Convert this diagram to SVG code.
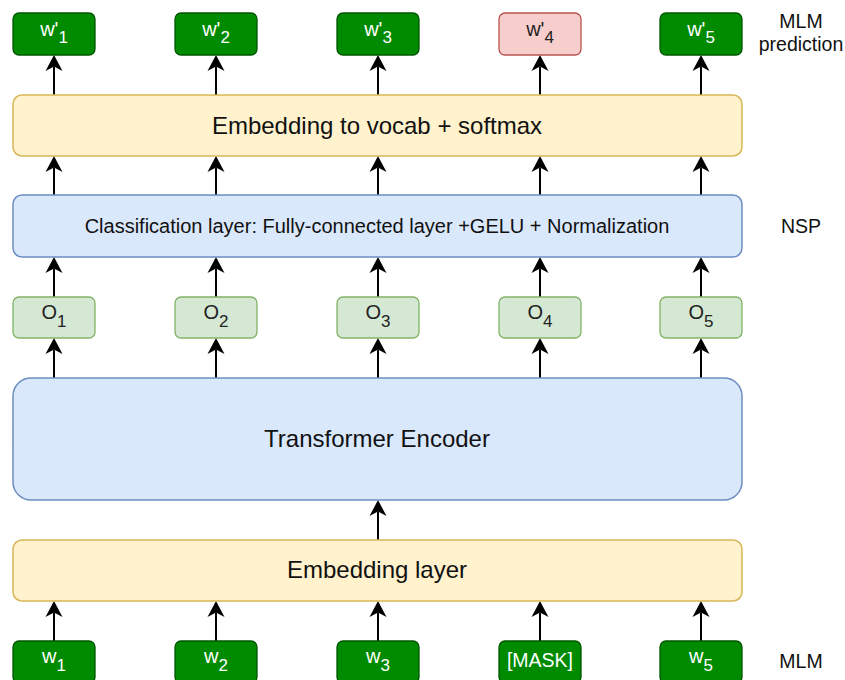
<svg xmlns="http://www.w3.org/2000/svg" width="845" height="680" viewBox="0 0 845 680">
<style>
text{font-family:"Liberation Sans",Arial,sans-serif;}
.dg{fill:#008a00;stroke:#005700;stroke-width:1.3;}
.pk{fill:#f8cecc;stroke:#b85450;stroke-width:1.3;}
.lg{fill:#d5e8d4;stroke:#82b366;stroke-width:1.3;}
.bl{fill:#dae8fc;stroke:#6c8ebf;stroke-width:1.5;}
.yl{fill:#fff2cc;stroke:#d6b656;stroke-width:1.5;}
.wt{fill:#ffffff;font-size:20px;text-anchor:middle;}
.dk{fill:#222222;font-size:20px;text-anchor:middle;}
.big{fill:#111111;font-size:24px;text-anchor:middle;}
.mid{fill:#111111;font-size:20px;text-anchor:middle;}
.side{fill:#111111;font-size:19.5px;text-anchor:middle;}
.sub{font-size:17px;}
.cn line{stroke:#000;stroke-width:2;marker-end:url(#ah);}
</style>
<defs>
<marker id="ah" markerUnits="userSpaceOnUse" viewBox="-1 -10 18 20" markerWidth="18" markerHeight="20" refX="4.5" refY="0" orient="auto">
<path d="M0,-8.5 L16,0 L0,8.5 L4.5,0 Z" fill="#000"/>
</marker>
</defs>

<g id="connectors" class="cn">
<line x1="54" y1="95" x2="54" y2="66.5"/>
<line x1="216" y1="95" x2="216" y2="66.5"/>
<line x1="378" y1="95" x2="378" y2="66.5"/>
<line x1="540" y1="95" x2="540" y2="66.5"/>
<line x1="701" y1="95" x2="701" y2="66.5"/>

<line x1="54" y1="195" x2="54" y2="167.5"/>
<line x1="216" y1="195" x2="216" y2="167.5"/>
<line x1="378" y1="195" x2="378" y2="167.5"/>
<line x1="540" y1="195" x2="540" y2="167.5"/>
<line x1="701" y1="195" x2="701" y2="167.5"/>

<line x1="54" y1="297" x2="54" y2="268.5"/>
<line x1="216" y1="297" x2="216" y2="268.5"/>
<line x1="378" y1="297" x2="378" y2="268.5"/>
<line x1="540" y1="297" x2="540" y2="268.5"/>
<line x1="701" y1="297" x2="701" y2="268.5"/>

<line x1="54" y1="378" x2="54" y2="349.5"/>
<line x1="216" y1="378" x2="216" y2="349.5"/>
<line x1="378" y1="378" x2="378" y2="349.5"/>
<line x1="540" y1="378" x2="540" y2="349.5"/>
<line x1="701" y1="378" x2="701" y2="349.5"/>

<line x1="378" y1="540" x2="378" y2="511.5"/>

<line x1="54" y1="641" x2="54" y2="612.5"/>
<line x1="216" y1="641" x2="216" y2="612.5"/>
<line x1="378" y1="641" x2="378" y2="612.5"/>
<line x1="540" y1="641" x2="540" y2="612.5"/>
<line x1="701" y1="641" x2="701" y2="612.5"/>
</g>

<g id="wp1"><rect class="dg" x="13" y="13" width="82" height="42" rx="6"/><text class="wt" x="54" y="36">w'<tspan class="sub" dy="7">1</tspan></text></g>
<g id="wp2"><rect class="dg" x="175" y="13" width="82" height="42" rx="6"/><text class="wt" x="216" y="36">w'<tspan class="sub" dy="7">2</tspan></text></g>
<g id="wp3"><rect class="dg" x="337" y="13" width="82" height="42" rx="6"/><text class="wt" x="378" y="36">w'<tspan class="sub" dy="7">3</tspan></text></g>
<g id="wp4"><rect class="pk" x="499" y="13" width="82" height="42" rx="6"/><text class="dk" x="540" y="36">w'<tspan class="sub" dy="7">4</tspan></text></g>
<g id="wp5"><rect class="dg" x="660" y="13" width="82" height="42" rx="6"/><text class="wt" x="701" y="36">w'<tspan class="sub" dy="7">5</tspan></text></g>

<g id="vocab"><rect class="yl" x="13" y="95" width="729" height="61" rx="9"/><text class="big" x="377" y="134">Embedding to vocab + softmax</text></g>

<g id="classification"><rect class="bl" x="13" y="195" width="729" height="62" rx="9"/><text class="mid" x="377" y="233">Classification layer: Fully-connected layer +GELU + Normalization</text></g>

<g id="o1"><rect class="lg" x="13" y="297" width="82" height="41" rx="6"/><text class="dk" x="54" y="319">O<tspan class="sub" dy="7.5">1</tspan></text></g>
<g id="o2"><rect class="lg" x="175" y="297" width="82" height="41" rx="6"/><text class="dk" x="216" y="319">O<tspan class="sub" dy="7.5">2</tspan></text></g>
<g id="o3"><rect class="lg" x="337" y="297" width="82" height="41" rx="6"/><text class="dk" x="378" y="319">O<tspan class="sub" dy="7.5">3</tspan></text></g>
<g id="o4"><rect class="lg" x="499" y="297" width="82" height="41" rx="6"/><text class="dk" x="540" y="319">O<tspan class="sub" dy="7.5">4</tspan></text></g>
<g id="o5"><rect class="lg" x="660" y="297" width="82" height="41" rx="6"/><text class="dk" x="701" y="319">O<tspan class="sub" dy="7.5">5</tspan></text></g>

<g id="encoder"><rect class="bl" x="13" y="378" width="729" height="122" rx="18"/><text class="big" x="377" y="447">Transformer Encoder</text></g>

<g id="embedding"><rect class="yl" x="13" y="540" width="729" height="61" rx="9"/><text class="big" x="377" y="578">Embedding layer</text></g>

<g id="w1"><rect class="dg" x="13" y="641" width="82" height="42" rx="6"/><text class="wt" x="54" y="663">w<tspan class="sub" dy="8">1</tspan></text></g>
<g id="w2"><rect class="dg" x="175" y="641" width="82" height="42" rx="6"/><text class="wt" x="216" y="663">w<tspan class="sub" dy="8">2</tspan></text></g>
<g id="w3"><rect class="dg" x="337" y="641" width="82" height="42" rx="6"/><text class="wt" x="378" y="663">w<tspan class="sub" dy="8">3</tspan></text></g>
<g id="mask"><rect class="dg" x="499" y="641" width="82" height="42" rx="6"/><text class="wt" x="540" y="667" style="font-size:19.5px">[MASK]</text></g>
<g id="w5"><rect class="dg" x="660" y="641" width="82" height="42" rx="6"/><text class="wt" x="701" y="663">w<tspan class="sub" dy="8">5</tspan></text></g>

<g id="labels">
<text class="side" x="801" y="28">MLM</text>
<text class="side" x="801" y="51">prediction</text>
<text class="side" x="801" y="233">NSP</text>
<text class="side" x="801" y="668">MLM</text>
</g>
</svg>
